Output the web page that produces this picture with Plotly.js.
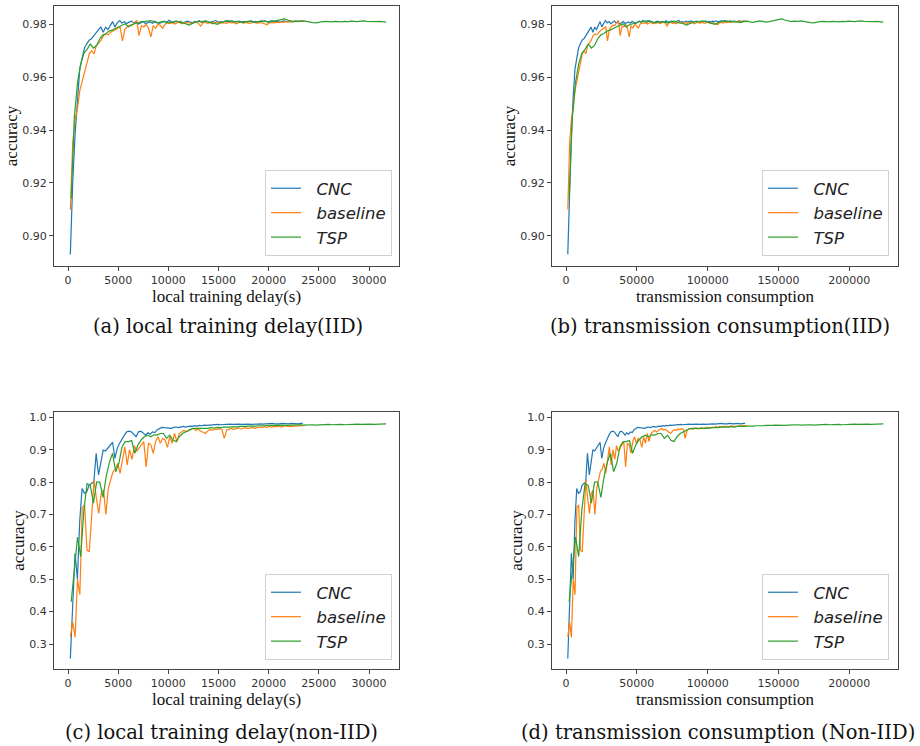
<!DOCTYPE html>
<html><head><meta charset="utf-8">
<script src="https://cdn.plot.ly/plotly-3.0.1.min.js"></script>
<style>body{margin:0;background:#fff}#chart{width:920px;height:746px}</style>
</head><body><div id="chart"></div>
<script>
// ---- data ----
const rounds = [1,2,3,4,5,6,7,8,9,10,11,12,13,14,15,16,17,18,19,20,
  21,22,23,24,25,26,27,28,29,30,31,32,33,34,35,36,37,38,39,40,
  41,42,43,44,45,46,47,48,49,50,51,52,53,54,55,56,57,58,59,60,
  61,62,63,64,65,66,67,68,69,70,71,72,73,74,75,76,77,78,79,80,
  81,82,83,84,85,86,87,88,89,90,91,92,93,94,95,96,97,98,99,100];
const methods = ["CNC", "baseline", "TSP"];
const delayPerRound = [234, 236, 317];       // local training delay (s) per round
const transPerRound = [1264, 1275, 2240];    // transmission consumption per round

const cncIID = [
  0.893,0.920,0.938,0.952,0.963,0.967,0.971,0.9726,0.974,0.9745,
  0.9757,0.977,0.978,0.9789,0.977,0.9789,0.978,0.9795,0.981,0.979,
  0.9805,0.9814,0.9805,0.981,0.9802,0.9808,0.9812,0.9805,0.9808,0.9801,
  0.9806,0.9810,0.9803,0.9807,0.9809,0.9804,0.9811,0.9806,0.9803,0.9808,
  0.9812,0.9807,0.9815,0.9809,0.9806,0.9812,0.9808,0.9811,0.9805,0.9809,
  0.9812,0.9808,0.9806,0.9811,0.9809,0.9813,0.9807,0.9810,0.9812,0.9806,
  0.9809,0.9811,0.9814,0.9808,0.9810,0.9807,0.9812,0.9809,0.9811,0.9813,
  0.9808,0.9810,0.9812,0.9809,0.9811,0.9807,0.9810,0.9813,0.9809,0.9811,
  0.9808,0.9812,0.9810,0.9813,0.9809,0.9811,0.9814,0.9810,0.9812,0.9808,
  0.9811,0.9813,0.9810,0.9812,0.9809,0.9811,0.9813,0.9810,0.9812,0.9811];
const baseIID = [
  0.910,0.935,0.944,0.948,0.955,0.9585,0.962,0.966,0.9688,0.970,
  0.9688,0.972,0.973,0.974,0.9757,0.9763,0.976,0.977,0.9775,0.978,
  0.9785,0.979,0.9737,0.978,0.979,0.9797,0.9795,0.9805,0.9815,0.9757,
  0.9795,0.979,0.980,0.9785,0.9752,0.9795,0.9785,0.980,0.9795,0.9785,
  0.980,0.9805,0.9803,0.9806,0.9801,0.9805,0.9808,0.9802,0.9806,0.9804,
  0.9807,0.9803,0.9806,0.9809,0.9804,0.9793,0.9805,0.9808,0.9803,0.9806,
  0.9802,0.9807,0.9805,0.9809,0.9804,0.9806,0.9803,0.9808,0.9805,0.9807,
  0.9802,0.9806,0.9809,0.9804,0.9807,0.9805,0.9803,0.9808,0.9806,0.9804,
  0.9807,0.9805,0.9802,0.9798,0.9805,0.9807,0.9804,0.9808,0.9806,0.9809,
  0.9807,0.9810,0.9808,0.9811,0.9809,0.9812,0.9810,0.9812,0.9811,0.9812];
const tspIID = [
  0.914,0.945,0.958,0.965,0.969,0.9705,0.9725,0.971,0.972,0.9745,
  0.976,0.9765,0.9775,0.9778,0.9785,0.979,0.9795,0.9802,0.979,0.9798,
  0.9802,0.9805,0.981,0.981,0.9812,0.9814,0.981,0.9805,0.9808,0.981,
  0.9808,0.9805,0.9809,0.9812,0.9808,0.9806,0.9802,0.9797,0.9804,0.9808,
  0.9811,0.9809,0.9813,0.9810,0.9807,0.9804,0.9800,0.9806,0.9811,0.9814,
  0.9812,0.9809,0.9811,0.9808,0.9806,0.9810,0.9812,0.9809,0.9807,0.9810,
  0.9813,0.9811,0.9808,0.9810,0.9812,0.9815,0.9818,0.9820,0.9816,0.9812,
  0.9810,0.9812,0.9811,0.9813,0.9810,0.9808,0.9806,0.9805,0.9808,0.9810,
  0.9811,0.9810,0.9809,0.9811,0.9810,0.9809,0.9811,0.9810,0.9812,0.9811,
  0.9810,0.9812,0.9813,0.9811,0.9810,0.9809,0.9810,0.9811,0.9810,0.9808];

const cncNon = [
  0.255,0.40,0.58,0.50,0.68,0.78,0.765,0.77,0.79,0.796,
  0.80,0.889,0.822,0.86,0.899,0.896,0.904,0.915,0.923,0.873,
  0.905,0.92,0.935,0.945,0.955,0.957,0.955,0.948,0.94,0.955,
  0.957,0.952,0.945,0.952,0.948,0.955,0.953,0.962,0.966,0.969,
  0.968,0.967,0.968,0.966,0.969,0.970,0.968,0.971,0.972,0.970,
  0.972,0.973,0.972,0.974,0.973,0.975,0.974,0.976,0.975,0.976,
  0.977,0.976,0.977,0.978,0.977,0.978,0.977,0.978,0.979,0.978,
  0.979,0.978,0.979,0.978,0.979,0.980,0.979,0.978,0.979,0.980,
  0.979,0.980,0.979,0.980,0.979,0.980,0.981,0.980,0.979,0.980,
  0.981,0.980,0.979,0.980,0.981,0.980,0.981,0.980,0.981,0.981];
const baseNon = [
  0.322,0.368,0.320,0.50,0.452,0.72,0.73,0.59,0.585,0.70,
  0.806,0.75,0.703,0.765,0.775,0.70,0.78,0.806,0.832,0.84,
  0.858,0.827,0.87,0.909,0.853,0.90,0.87,0.912,0.895,0.905,
  0.912,0.925,0.847,0.92,0.915,0.889,0.925,0.94,0.92,0.935,
  0.93,0.907,0.94,0.92,0.95,0.925,0.95,0.955,0.96,0.955,
  0.958,0.962,0.966,0.960,0.963,0.958,0.955,0.950,0.958,0.962,
  0.960,0.964,0.962,0.965,0.963,0.935,0.960,0.964,0.966,0.963,
  0.965,0.967,0.964,0.966,0.968,0.965,0.967,0.969,0.966,0.968,
  0.970,0.968,0.971,0.969,0.972,0.970,0.972,0.971,0.973,0.970,
  0.972,0.974,0.971,0.973,0.972,0.974,0.973,0.975,0.974,0.975];
const tspNon = [
  0.43,0.53,0.63,0.57,0.714,0.795,0.79,0.735,0.80,0.80,
  0.753,0.817,0.86,0.889,0.832,0.858,0.909,0.925,0.925,0.928,
  0.889,0.915,0.93,0.94,0.945,0.94,0.946,0.945,0.95,0.95,
  0.935,0.945,0.93,0.925,0.94,0.95,0.955,0.96,0.965,0.966,
  0.966,0.965,0.967,0.966,0.968,0.967,0.969,0.968,0.970,0.969,
  0.970,0.971,0.970,0.972,0.971,0.972,0.973,0.972,0.973,0.974,
  0.973,0.974,0.975,0.974,0.975,0.976,0.975,0.976,0.975,0.976,
  0.977,0.976,0.977,0.976,0.977,0.978,0.977,0.976,0.977,0.978,
  0.977,0.978,0.977,0.978,0.979,0.978,0.977,0.978,0.979,0.978,
  0.979,0.978,0.979,0.980,0.979,0.978,0.979,0.980,0.979,0.980];

const xTitles = ["local training delay(s)", "transmission consumption"];
const captions = ["(a) local training delay(IID)", "(b) transmission consumption(IID)",
                  "(c) local training delay(non-IID)", "(d) transmission consumption (Non-IID)"];
const xTickVals = [[0,5000,10000,15000,20000,25000,30000],[0,50000,100000,150000,200000]];
const yTickValsIID = [0.90,0.92,0.94,0.96,0.98];
const yTickValsNon = [0.3,0.4,0.5,0.6,0.7,0.8,0.9,1.0];

// ---- build ----
const colors = ["#1f77b4", "#ff7f0e", "#2ca02c"];
const panels = [
  {ax:"", data:[cncIID, baseIID, tspIID], cost:delayPerRound, leg:"legend"},
  {ax:"2", data:[cncIID, baseIID, tspIID], cost:transPerRound, leg:"legend2"},
  {ax:"3", data:[cncNon, baseNon, tspNon], cost:delayPerRound, leg:"legend3"},
  {ax:"4", data:[cncNon, baseNon, tspNon], cost:transPerRound, leg:"legend4"}
];
const traces = [];
panels.forEach(p => {
  methods.forEach((m, k) => {
    traces.push({
      type: "scatter", mode: "lines",
      x: p.data[k].map((v, i) => rounds[i] * p.cost[k]),
      y: p.data[k],
      name: "\u00a0\u00a0<i>" + m + "</i>",
      line: {color: colors[k], width: 1.2},
      xaxis: "x" + p.ax, yaxis: "y" + p.ax,
      legend: p.leg
    });
  });
});

const W = 920, H = 746;
const tickFont = {family: "DejaVu Sans", size: 11, color: "#333"};
const titleFont = {family: "Liberation Serif", size: 17, color: "#111"};
function xa(dom, yname, range, tv, title) {
  return {domain: dom, anchor: yname, range: range, tickvals: tv, tickformat: "d",
    showline: true, mirror: true, linecolor: "#444", linewidth: 1, ticks: "outside",
    ticklen: 4, tickcolor: "#444", tickfont: tickFont, showgrid: false, zeroline: false,
    automargin: false, title: {text: title, font: titleFont, standoff: 0}};
}
function ya(dom, xname, range, tv, fmt) {
  return {domain: dom, anchor: xname, range: range, tickvals: tv, tickformat: fmt,
    showline: true, mirror: true, linecolor: "#444", linewidth: 1, ticks: "outside",
    ticklen: 4, tickcolor: "#444", tickfont: tickFont, showgrid: false, zeroline: false,
    automargin: false, title: {text: "accuracy", font: titleFont, standoff: 0}};
}
const dxL = [54/W, 399/W], dxR = [552/W, 898/W];
const dyT = [1-266/H, 1-6/H], dyB = [1-669/H, 1-412/H];
const rxD = [-1395, 32990], rxT = [-9884, 234380];
const ryI = [0.8886, 0.9869], ryN = [0.2228, 1.0164];

function leg(xr, yb) {
  return {x: xr/W, xanchor: "right", y: 1-yb/H, yanchor: "bottom",
    bgcolor: "rgba(255,255,255,0.85)", bordercolor: "#d0d0d0", borderwidth: 1,
    font: {family: "DejaVu Sans", size: 16.5, color: "#222"}, tracegroupgap: 0};
}
function cap(text, xc, yc, anchor) {
  return {text: text, xref: "paper", yref: "paper", x: xc/W, y: 1-yc/H,
    xanchor: "center", yanchor: anchor, showarrow: false,
    font: {family: "DejaVu Serif", size: 19.5, color: "#111"}};
}

const layout = {
  width: W, height: H, margin: {l: 0, r: 0, t: 0, b: 0},
  paper_bgcolor: "#fff", plot_bgcolor: "#fff",
  xaxis: xa(dxL, "y", rxD, xTickVals[0], xTitles[0]),
  yaxis: ya(dyT, "x", ryI, yTickValsIID, ".2f"),
  xaxis2: xa(dxR, "y2", rxT, xTickVals[1], xTitles[1]),
  yaxis2: ya(dyT, "x2", ryI, yTickValsIID, ".2f"),
  xaxis3: xa(dxL, "y3", rxD, xTickVals[0], xTitles[0]),
  yaxis3: ya(dyB, "x3", ryN, yTickValsNon, ".1f"),
  xaxis4: xa(dxR, "y4", rxT, xTickVals[1], xTitles[1]),
  yaxis4: ya(dyB, "x4", ryN, yTickValsNon, ".1f"),
  legend: leg(392, 256), legend2: leg(889, 256),
  legend3: leg(392, 660), legend4: leg(889, 660),
  annotations: [cap(captions[0], 228, 327, "middle"), cap(captions[1], 720, 327, "middle"),
                cap(captions[2], 221, 746, "bottom"), cap(captions[3], 718, 746, "bottom")]
};
Plotly.newPlot("chart", traces, layout, {staticPlot: true, displayModeBar: false});
</script>
</body></html>
